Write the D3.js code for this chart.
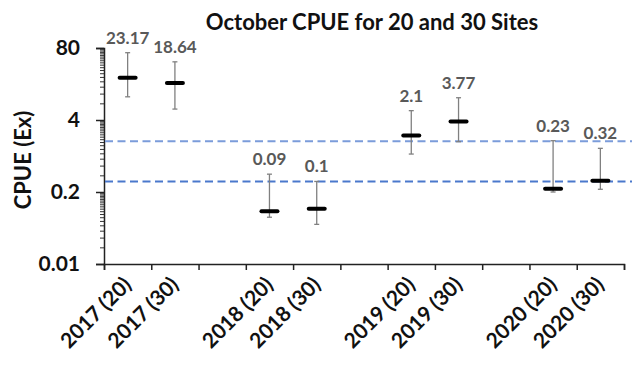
<!DOCTYPE html>
<html>
<head>
<meta charset="utf-8">
<script src="https://cdn.jsdelivr.net/npm/d3@7/dist/d3.min.js"></script>
<style>
  html, body { margin: 0; padding: 0; background: #fff; }
  svg { display: block; font-family: Lato, "Open Sans", sans-serif; }
</style>
</head>
<body>
<svg id="chart" width="632" height="375"></svg>
<script>
// October CPUE per survey, 20- and 30-site designs (blank slots separate the years)
const categories = ["2017 (20)", "2017 (30)", "", "2018 (20)", "2018 (30)", "",
                    "2019 (20)", "2019 (30)", "", "2020 (20)", "2020 (30)"];
const means   = [23.17, 18.64, null, 0.09, 0.1, null, 2.1, 3.77, null, 0.23, 0.32];
const errHigh = [65.8, 45.0, null, 0.42, 0.31, null, 5.9, 10.1, null, 1.69, 1.23];
const errLow  = [10.5, 6.3, null, 0.07, 0.052, null, 0.97, 1.62, null, 0.2, 0.224];
const yTicks  = [0.01, 0.2, 4, 80];
const refLines = [1.65, 0.31];

const svg = d3.select("#chart");
const plotLeft = 104, plotRight = 624, plotTop = 48, plotBottom = 264;

const y = d3.scaleLog().base(20).domain([0.01, 80]).range([plotBottom, plotTop]);
const x = d3.scaleBand().domain(d3.range(categories.length)).range([plotLeft, plotRight]);
const xEdge = d3.scaleLinear().domain([0, categories.length]).range([plotLeft, plotRight]);

// title
svg.append("text")
  .attr("x", 372).attr("y", 30)
  .attr("text-anchor", "middle")
  .attr("font-size", 22).attr("font-weight", 700).attr("fill", "#111")
  .text("October CPUE for 20 and 30 Sites");

// y-axis title
svg.append("text")
  .attr("transform", "translate(31,160) rotate(-90)")
  .attr("text-anchor", "middle")
  .attr("font-size", 22).attr("font-weight", 700).attr("fill", "#111")
  .text("CPUE (Ex)");

// minor log ticks: k * base for k = 2..19 within each decade of 20
const minor = [];
yTicks.slice(0, -1).forEach(b => { for (let k = 2; k < 20; k++) minor.push(b * k); });

const yMinor = svg.append("g")
  .attr("transform", `translate(${plotLeft},0)`)
  .call(d3.axisLeft(y).tickValues(minor).tickSize(4).tickFormat(""));
yMinor.select(".domain").remove();
yMinor.selectAll("line").attr("stroke", "#333").attr("stroke-width", 1);

const yAxis = svg.append("g")
  .attr("transform", `translate(${plotLeft},0)`)
  .call(d3.axisLeft(y).tickValues(yTicks).tickSize(8).tickPadding(16)
        .tickFormat(d => String(d)));
yAxis.select(".domain").attr("stroke", "#222").attr("stroke-width", 1.5);
yAxis.selectAll("line").attr("stroke", "#222").attr("stroke-width", 1.5);
yAxis.selectAll("text").attr("font-size", 21).attr("font-weight", 700)
  .attr("fill", "#111").attr("font-family", "Lato, sans-serif");

// x axis with ticks on slot boundaries
const xAxis = svg.append("g")
  .attr("transform", `translate(0,${plotBottom})`)
  .call(d3.axisBottom(xEdge).tickValues(d3.range(categories.length + 1))
        .tickSize(6).tickFormat(""));
xAxis.select(".domain").attr("stroke", "#222").attr("stroke-width", 1.5);
xAxis.selectAll("line").attr("stroke", "#222").attr("stroke-width", 1.5);

svg.append("g").selectAll("text")
  .data(categories.map((c, i) => ({c, i})).filter(d => d.c))
  .join("text")
  .attr("transform", d => `translate(${x(d.i) + x.bandwidth() / 2 + 5},${plotBottom + 22}) rotate(-45)`)
  .attr("text-anchor", "end")
  .attr("font-size", 21).attr("font-weight", 700).attr("fill", "#111")
  .text(d => d.c);

// reference lines
const refColors = ["#7b9cda", "#4a78cc"];
svg.append("g").selectAll("line")
  .data(refLines)
  .join("line")
  .attr("x1", plotLeft + 1).attr("x2", 632)
  .attr("y1", d => y(d)).attr("y2", d => y(d))
  .attr("stroke", (d, i) => refColors[i])
  .attr("stroke-width", 2)
  .attr("stroke-dasharray", "8,4.5");

const pts = means.map((m, i) => ({i, m, hi: errHigh[i], lo: errLow[i]})).filter(d => d.m != null);
const cx = d => x(d.i) + x.bandwidth() / 2;

// error bars
const eb = svg.append("g");
eb.selectAll("line.stem").data(pts).join("line").attr("class", "stem")
  .attr("x1", cx).attr("x2", cx)
  .attr("y1", d => y(d.hi)).attr("y2", d => y(d.lo))
  .attr("stroke", "#808080").attr("stroke-width", 1.3);
["hi", "lo"].forEach(k => {
  eb.selectAll("line.cap-" + k).data(pts).join("line").attr("class", "cap-" + k)
    .attr("x1", d => cx(d) - 2.5).attr("x2", d => cx(d) + 2.5)
    .attr("y1", d => y(d[k])).attr("y2", d => y(d[k]))
    .attr("stroke", "#808080").attr("stroke-width", 1.3);
});

// mean markers
svg.append("g").selectAll("line").data(pts).join("line")
  .attr("x1", d => cx(d) - 8).attr("x2", d => cx(d) + 8)
  .attr("y1", d => y(d.m)).attr("y2", d => y(d.m))
  .attr("stroke", "#000").attr("stroke-width", 4).attr("stroke-linecap", "round");

// value labels
svg.append("g").selectAll("text").data(pts).join("text")
  .attr("x", cx).attr("y", d => y(d.hi) - 9)
  .attr("text-anchor", "middle")
  .attr("font-size", 17).attr("font-weight", 700).attr("fill", "#595959")
  .text(d => String(d.m));
</script>
</body>
</html>
